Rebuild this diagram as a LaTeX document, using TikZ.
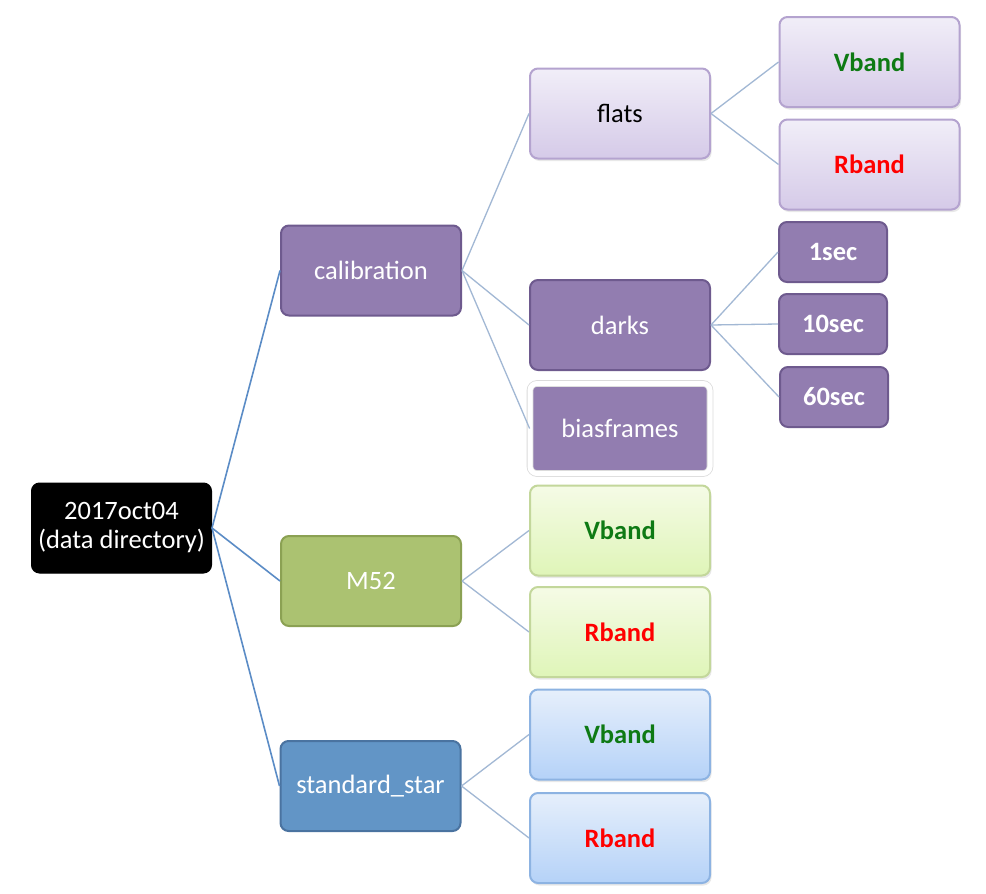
\documentclass[tikz,border=0pt]{standalone}
\usepackage{fontspec}
\setmainfont{Carlito}
\usetikzlibrary{shadows}
\definecolor{rootline}{HTML}{5B8CC6}
\definecolor{subline}{HTML}{A2B8D4}
\definecolor{pfill}{HTML}{927DB0}
\definecolor{pdraw}{HTML}{6E5A8E}
\definecolor{gfill}{HTML}{ABC271}
\definecolor{gdraw}{HTML}{8BA153}
\definecolor{bfill}{HTML}{6295C6}
\definecolor{bdraw}{HTML}{4A73A0}
\definecolor{lptop}{HTML}{F1EEF8}
\definecolor{lpbot}{HTML}{D5CAE8}
\definecolor{lpdraw}{HTML}{B4A3CF}
\definecolor{lgtop}{HTML}{F5FBE6}
\definecolor{lgbot}{HTML}{DFF5B8}
\definecolor{lgdraw}{HTML}{C3D79B}
\definecolor{lbtop}{HTML}{E6EFFB}
\definecolor{lbbot}{HTML}{B5D2F8}
\definecolor{lbdraw}{HTML}{8DB3E2}
\definecolor{vgreen}{HTML}{0E7A14}
\definecolor{rred}{HTML}{FF0000}
\tikzset{
  box/.style={rounded corners=8pt, minimum width=180pt, minimum height=90pt, line width=2pt, align=center, font=\fontsize{26.5}{29}\selectfont, inner sep=0pt},
  darkp/.style={box, fill=pfill, draw=pdraw, text=white},
  smallp/.style={darkp, minimum width=108pt, minimum height=60pt, font=\bfseries\fontsize{26.5}{29}\selectfont},
  lightshadow/.style={drop shadow={opacity=0.18, shadow xshift=1.5pt, shadow yshift=-2.5pt}},
  lightp/.style={box, top color=lptop, bottom color=lpbot, draw=lpdraw, lightshadow},
  lightg/.style={box, top color=lgtop, bottom color=lgbot, draw=lgdraw, lightshadow},
  lightb/.style={box, top color=lbtop, bottom color=lbbot, draw=lbdraw, lightshadow},
  rootcon/.style={draw=rootline, line width=1.6pt},
  subcon/.style={draw=subline, line width=1.3pt},
}
\begin{document}
\begin{tikzpicture}[x=1pt,y=-1pt]
\useasboundingbox[fill=white] (0,0) rectangle (986,894);
% connectors first (behind boxes)
\coordinate (rootE) at (212,528);
\coordinate (calE) at (461,270.5);
\coordinate (flatsE) at (709,113.5);
\coordinate (darksE) at (710,325);
\coordinate (m52E) at (461,581);
\coordinate (stdE) at (460,786);
% level 0
\node[box, fill=black, draw=black, text=white, minimum width=180pt, minimum height=90pt, line width=1pt] (root) at (121.5,528) {2017oct04\\(data directory)};
% level 1
\node[darkp] (cal) at (371,270.5) {calibration};
\node[box, fill=gfill, draw=gdraw, text=white] (m52) at (371,581) {M52};
\node[box, fill=bfill, draw=bdraw, text=white] (std) at (370.5,786) {standard\_star};
% calibration children
\node[lightp] (flats) at (620,113.5) {flats};
\node[darkp] (darks) at (620,325) {darks};
\node[box, rounded corners=7pt, fill=pfill, draw=black!14, double=white, double distance=5pt, line width=0.8pt, text=white, minimum width=180pt, minimum height=90pt] (bias) at (620,428.5) {biasframes};
% flats children
\node[lightp] (fv) at (869.5,62) {\textcolor{vgreen}{\bfseries Vband}};
\node[lightp] (fr) at (869.5,164.5) {\textcolor{rred}{\bfseries Rband}};
% darks children
\node[smallp] (d1) at (833,252) {1sec};
\node[smallp] (d10) at (833,324) {10sec};
\node[smallp] (d60) at (834,397) {60sec};
% M52 children
\node[lightg] (mv) at (620,530.5) {\textcolor{vgreen}{\bfseries Vband}};
\node[lightg] (mr) at (620,632) {\textcolor{rred}{\bfseries Rband}};
% std children
\node[lightb] (sv) at (620,734.5) {\textcolor{vgreen}{\bfseries Vband}};
\node[lightb] (sr) at (620,838) {\textcolor{rred}{\bfseries Rband}};
% connectors
\draw[rootcon] (root.east) -- (cal.west);
\draw[rootcon] (root.east) -- (m52.west);
\draw[rootcon] (root.east) -- (std.west);
\draw[subcon] (cal.east) -- (flats.west);
\draw[subcon] (cal.east) -- (darks.west);
\draw[subcon] (cal.east) -- (bias.west);
\draw[subcon] (flats.east) -- (fv.west);
\draw[subcon] (flats.east) -- (fr.west);
\draw[subcon] (darks.east) -- (d1.west);
\draw[subcon] (darks.east) -- (d10.west);
\draw[subcon] (darks.east) -- (d60.west);
\draw[subcon] (m52.east) -- (mv.west);
\draw[subcon] (m52.east) -- (mr.west);
\draw[subcon] (std.east) -- (sv.west);
\draw[subcon] (std.east) -- (sr.west);
\end{tikzpicture}
\end{document}
